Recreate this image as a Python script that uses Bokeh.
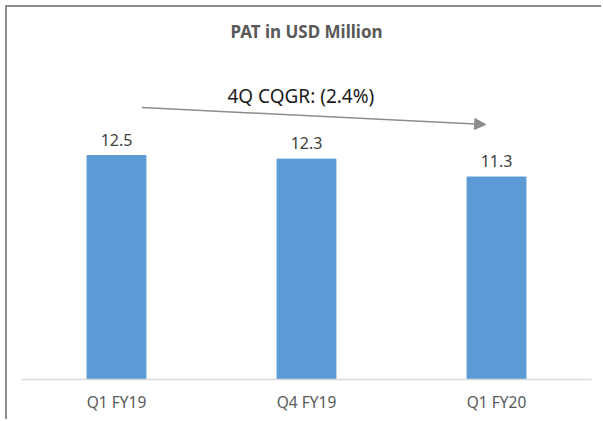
from bokeh.plotting import figure
from bokeh.models import ColumnDataSource, Arrow, NormalHead, Label, LabelSet, FactorRange, Range1d
from bokeh.core.properties import value
from bokeh.embed import file_html
from bokeh.resources import INLINE

# ---- data ----
quarters = ["Q1 FY19", "Q4 FY19", "Q1 FY20"]
pat = [12.5, 12.3, 11.3]
pat_labels = ["12.5", "12.3", "11.3"]
title_text = "PAT in USD Million"
cqgr_text = "4Q CQGR: (2.4%)"
# trend arrow annotation (x in category units, y in USD million)
arrow_x = [0.633, 2.443]
arrow_y = [15.18, 14.23]
cqgr_pos = (1.47, 15.8)

FONT = "Noto Sans"

src = ColumnDataSource(dict(q=quarters, v=pat, t=pat_labels))

p = figure(
    x_range=FactorRange(*quarters, range_padding=0),
    y_range=Range1d(0, 18.53),
    width=596, height=414,
    min_border_left=14, min_border_right=12,
    min_border_top=40, min_border_bottom=42,
    output_backend="svg", toolbar_location=None,
    title=title_text,
    styles={"position": "relative", "left": "5px", "top": "5px",
            "border-left": "2px solid #8c8c8c", "border-top": "2px solid #8c8c8c"},
)

p.title.align = "center"
p.title.text_font = FONT
p.title.text_font_size = "17px"
p.title.text_font_style = "bold"
p.title.text_color = "#595959"

p.vbar(x="q", top="v", width=0.31, source=src, color="#5B9BD5")

p.add_layout(LabelSet(x="q", y="v", text="t", source=src, text_align="center",
                      text_baseline="bottom", y_offset=10, text_font=value(FONT),
                      text_font_size=value("16px"), text_color="#404040"))

p.add_layout(Arrow(x_start=arrow_x[0], y_start=arrow_y[0], x_end=arrow_x[1], y_end=arrow_y[1],
                   line_color="#8c8c8c", line_width=1.5,
                   end=NormalHead(size=11, fill_color="#8c8c8c", line_color="#8c8c8c")))

p.add_layout(Label(x=cqgr_pos[0], y=cqgr_pos[1], text=cqgr_text, text_align="center",
                   text_baseline="middle", text_font=FONT, text_font_size="19px",
                   text_color="#1a1a1a"))

p.yaxis.visible = False
p.xgrid.visible = False
p.ygrid.visible = False
p.outline_line_color = None
p.xaxis.axis_line_color = "#d9d9d9"
p.xaxis.axis_line_width = 1.5
p.xaxis.major_tick_line_color = None
p.xaxis.minor_tick_line_color = None
p.xaxis.major_label_standoff = 5
p.xaxis.major_label_text_font = FONT
p.xaxis.major_label_text_font_size = "15.5px"
p.xaxis.major_label_text_color = "#595959"

open("out.html", "w").write(file_html(p, INLINE))
